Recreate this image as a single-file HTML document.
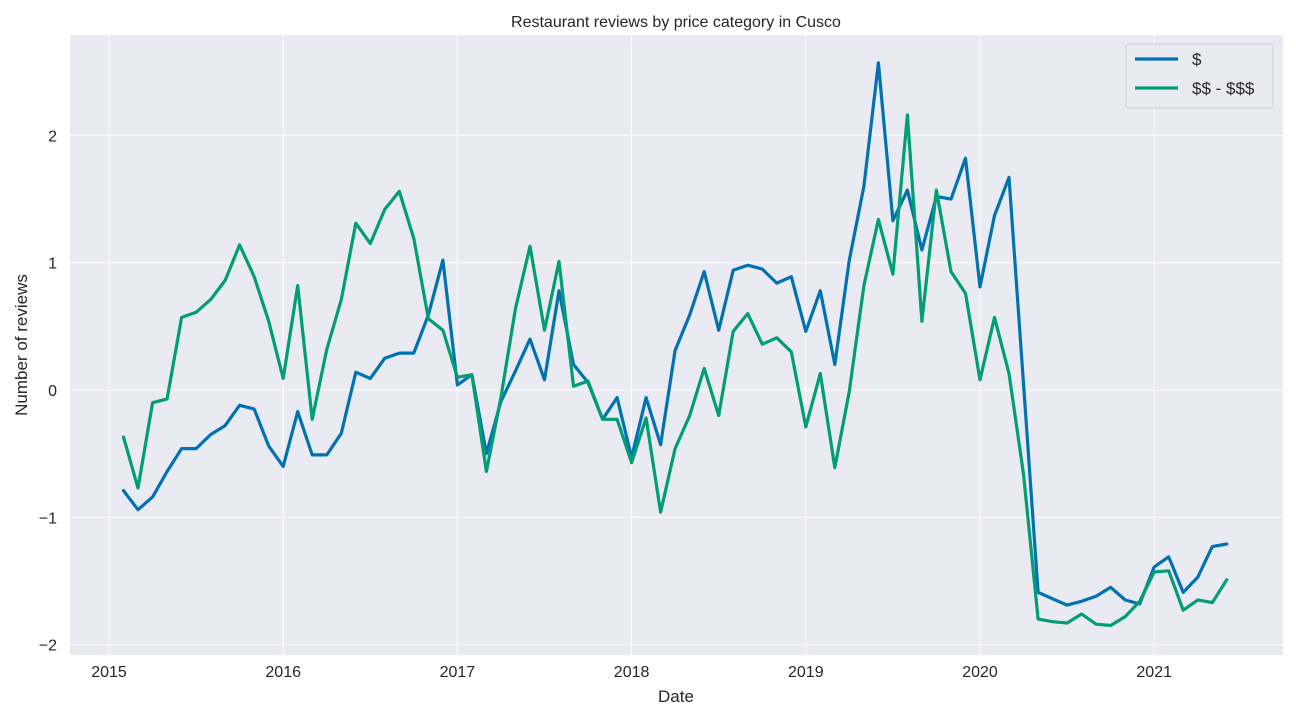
<!DOCTYPE html>
<html><head><meta charset="utf-8"><style>
body{margin:0;background:#fff;}
svg text{font-family:"Liberation Sans",Arial,sans-serif;fill:#262626;}
</style></head><body>
<svg id="chart" width="1296" height="720" xmlns="http://www.w3.org/2000/svg">
<rect x="70" y="35" width="1213" height="620" fill="#EAEAF2"/>
<g id="grid"></g>
<g id="lines"></g>
<g id="ticks"></g>
<text x="676" y="27" font-size="16" text-anchor="middle">Restaurant reviews by price category in Cusco</text>
<text x="676" y="702" font-size="17" text-anchor="middle">Date</text>
<text transform="translate(27,345) rotate(-90)" font-size="17" text-anchor="middle">Number of reviews</text>
<g>
<rect x="1126" y="44" width="147" height="64" rx="3" fill="#EAEAF2" stroke="#cccccc" stroke-width="1" opacity="0.9"/>
<line x1="1135" y1="59" x2="1178" y2="59" stroke="#0072B2" stroke-width="3.2"/>
<text x="1192" y="65" font-size="17">$</text>
<line x1="1135" y1="88" x2="1178" y2="88" stroke="#009E73" stroke-width="3.2"/>
<text x="1192" y="94" font-size="17">$$ - $$$</text>
</g>
</svg>
<script>
const startYear = 2015, startMonth = 1; // Feb 2015 (0-based month)
const cheapValues = [-0.79,-0.94,-0.84,-0.64,-0.46,-0.46,-0.35,-0.28,-0.12,-0.15,-0.44,-0.60,
-0.17,-0.51,-0.51,-0.34,0.14,0.09,0.25,0.29,0.29,0.59,1.02,0.04,
0.12,-0.50,-0.09,0.15,0.40,0.08,0.78,0.20,0.06,-0.23,-0.06,-0.53,
-0.06,-0.43,0.31,0.59,0.93,0.47,0.94,0.98,0.95,0.84,0.89,0.46,
0.78,0.20,1.02,1.60,2.57,1.33,1.57,1.10,1.52,1.50,1.82,0.81,
1.37,1.67,0.05,-1.59,-1.64,-1.69,-1.66,-1.62,-1.55,-1.65,-1.68,-1.39,
-1.31,-1.59,-1.47,-1.23,-1.21];
const expensiveValues = [-0.37,-0.77,-0.10,-0.07,0.57,0.61,0.71,0.86,1.14,0.89,0.54,0.09,
0.82,-0.23,0.32,0.71,1.31,1.15,1.42,1.56,1.19,0.56,0.47,0.10,
0.12,-0.64,-0.06,0.64,1.13,0.47,1.01,0.03,0.07,-0.23,-0.23,-0.57,
-0.22,-0.96,-0.46,-0.20,0.17,-0.20,0.46,0.60,0.36,0.41,0.30,-0.29,
0.13,-0.61,-0.01,0.82,1.34,0.91,2.16,0.54,1.57,0.93,0.76,0.08,
0.57,0.13,-0.66,-1.80,-1.82,-1.83,-1.76,-1.84,-1.85,-1.78,-1.66,-1.43,
-1.42,-1.73,-1.65,-1.67,-1.49];
const yTicks = [-2,-1,0,1,2];
const yTickLabels = ["\u22122","\u22121","0","1","2"];
const xTickYears = [2015,2016,2017,2018,2019,2020,2021];

const NS="http://www.w3.org/2000/svg";
function xScale(yearFrac){return 109 + (yearFrac-2015)*174.2;}
function yScale(v){return 390 - v*127.3;}
function dateOf(i){const m=startMonth+i;return startYear+Math.floor(m/12)+(m%12)/12;}
function mk(tag,attrs,parent){const e=document.createElementNS(NS,tag);for(const k in attrs)e.setAttribute(k,attrs[k]);parent.appendChild(e);return e;}
const grid=document.getElementById('grid'), ticks=document.getElementById('ticks'), lines=document.getElementById('lines');
yTicks.forEach((t,i)=>{
  const g=mk('line',{x1:70,x2:1283,y1:yScale(t),y2:yScale(t),stroke:'#fff','stroke-width':1},grid);
  
  
  const tx=mk('text',{x:57,y:yScale(t)+6,'font-size':16,'text-anchor':'end'},ticks);
  tx.textContent=yTickLabels[i];
  
  
});
xTickYears.forEach(y=>{
  const g=mk('line',{x1:xScale(y),x2:xScale(y),y1:35,y2:655,stroke:'#fff','stroke-width':1},grid);
  
  
  const tx=mk('text',{x:xScale(y),y:677,'font-size':16,'text-anchor':'middle'},ticks);
  tx.textContent=String(y);
  
  
});
function drawSeries(vals,color,name){
  const d=vals.map((v,i)=>(i?'L':'M')+xScale(dateOf(i)).toFixed(1)+','+yScale(v).toFixed(1)).join(' ');
  const p=mk('path',{d:d,fill:'none',stroke:color,'stroke-width':3.2,'stroke-linejoin':'round','stroke-linecap':'round'},lines);
  
  
}
drawSeries(cheapValues,'#0072B2','line-cheap');
drawSeries(expensiveValues,'#009E73','line-expensive');
</script>
</body></html>
